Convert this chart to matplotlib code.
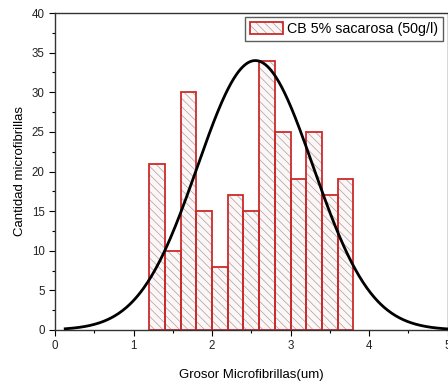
import numpy as np
import matplotlib
matplotlib.use("Agg")
import matplotlib.pyplot as plt

# =============================================================================
# data
# =============================================================================
bin_left = [1.2, 1.4, 1.6, 1.8, 2.0, 2.2, 2.4, 2.6, 2.8, 3.0, 3.2, 3.4, 3.6]
counts = [21, 10, 30, 15, 8, 17, 15, 34, 25, 19, 25, 17, 19]
bin_width = 0.2
curve_start = 0.13
curve_end = 5.0

aLeft = np.asarray(bin_left)
aCounts = np.asarray(counts, dtype=float)
aCenter = aLeft + bin_width / 2

# normal curve from the histogram's mean / std, peak scaled to the tallest bar
mu = np.sum(aCenter * aCounts) / np.sum(aCounts)
sigma = np.sqrt(np.sum(aCounts * (aCenter - mu) ** 2) / np.sum(aCounts))
xCurve = np.linspace(curve_start, curve_end, 400)
yCurve = aCounts.max() * np.exp(-(xCurve - mu) ** 2 / (2 * sigma ** 2))

# =============================================================================
# plot
# =============================================================================
plt.rcParams['font.family'] = ['Liberation Sans', 'DejaVu Sans']
plt.rcParams['hatch.linewidth'] = 0.5

fig = plt.figure(figsize=(4.48, 3.83), dpi=100)
ax = fig.add_axes([55 / 448, 53 / 383, 392.5 / 448, 317 / 383])

red = '#cc2a2a'
# hatch in grey, outline in red -> two layers
hatched = ax.bar(aLeft, aCounts, width=bin_width, align='edge',
                 facecolor='#fdf6f6', edgecolor='#a8a0a0', hatch='\\\\\\\\', lw=0)
outline = ax.bar(aLeft, aCounts, width=bin_width, align='edge',
                 fill=False, edgecolor=red, lw=1.3)
ax.plot(xCurve, yCurve, color='black', lw=2, zorder=3)

ax.set_xlim(0, 5)
ax.set_ylim(0, 40)
ax.set_xticks(np.arange(0, 6, 1))
ax.set_xticks(np.arange(0, 5.01, 0.5), minor=True)
ax.set_yticks(np.arange(0, 41, 5))
ax.set_yticks(np.arange(0, 40.1, 2.5), minor=True)
ax.tick_params(which='both', direction='out', labelsize=8.3, width=0.8,
               labelcolor='#222222')
ax.tick_params(which='major', length=4)
ax.tick_params(which='minor', length=2.5)
for s in ax.spines.values():
    s.set_linewidth(1.0)
    s.set_color('#333333')

ax.set_xlabel("Grosor Microfibrillas(um)", fontsize=9.5, labelpad=12)
ax.set_ylabel("Cantidad microfibrillas", fontsize=9.5, labelpad=4)

ax.legend([(hatched[0], outline[0])], ["CB 5% sacarosa (50g/l)"],
          loc='upper right', fontsize=10.3, fancybox=False, frameon=True,
          edgecolor='#333333', borderpad=0.35, handlelength=2.3,
          handleheight=0.9, handletextpad=0.3, borderaxespad=0.3)

plt.savefig("out.png", dpi=100)
